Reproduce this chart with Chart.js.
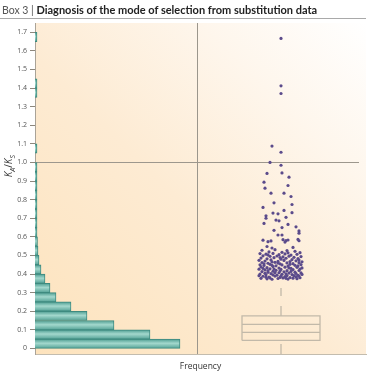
<!DOCTYPE html>
<html>
<head>
<meta charset="utf-8">
<script src="https://cdn.jsdelivr.net/npm/chart.js@4/dist/chart.umd.min.js"></script>
<style>
  body { margin: 0; background: #fff; }
  #wrap { position: relative; width: 371px; height: 372px; }
  #head {
    position: absolute; left: 0; top: 0; width: 366px; height: 19px;
    border-bottom: 1px solid #a9a9a9;
    font-family: Lato, "Open Sans", sans-serif; font-size: 11px; line-height: 19px;
    color: #222; padding-left: 2px; box-sizing: border-box; white-space: nowrap;
  }
  #head .box { color: #555; font-weight: normal; font-size: 10.5px; }
  #head b { font-weight: bold; }
  canvas { position: absolute; left: 0; top: 0; }
</style>
</head>
<body>
<div id="wrap">
  <canvas id="kaksChart" width="371" height="372"></canvas>
  <div id="head"><span class="box">Box 3 | </span><b>Diagnosis of the mode of selection from substitution data</b></div>
</div>
<script>
// histogram of Ka/Ks (bins of 0.05), frequency in arbitrary units
const binCenters = [0.025, 0.075, 0.125, 0.175, 0.225, 0.275, 0.325, 0.375, 0.425, 0.475,
                    0.525, 0.575, 0.625, 0.675, 0.725, 0.775, 0.825, 0.875, 0.925, 0.975,
                    1.025, 1.075, 1.125, 1.175, 1.225, 1.275, 1.325, 1.375, 1.425, 1.475,
                    1.525, 1.575, 1.625, 1.675];
const binCounts = [145, 115, 79, 52, 36, 21, 15, 10, 6, 4,
                   3, 2.5, 2, 2, 2, 2, 2, 2, 2, 2,
                   0, 2, 0, 0, 0, 0, 0, 2, 2, 0,
                   0, 0, 0, 2];

const yTickValues = [0, 0.1, 0.2, 0.3, 0.4, 0.5, 0.6, 0.7, 0.8, 0.9, 1.0, 1.1, 1.2, 1.3, 1.4, 1.5, 1.6, 1.7];
const yTickLabels = ['0', '0.1', '0.2', '0.3', '0.4', '0.5', '0.6', '0.7', '0.8', '0.9', '1.0', '1.1', '1.2', '1.3', '1.4', '1.5', '1.6', '1.7'];

// box plot: box lines, whiskers
const boxLines = [0.043, 0.086, 0.129, 0.175];
const whiskerTop = 0.325;
const whiskerBottom = -0.03;
const neutralValue = 1.0;

// outliers above the whisker: [jitter, Ka/Ks]
const outliers = [
  [0,1.667],[0,1.412],[0,1.371],[-9,1.088],[0,1.055],[-11,1.000],[0,0.985],[-14,0.941],[1,0.944],[8,0.921],
  [-17,0.894],[7,0.876],[-16,0.862],[-10,0.835],[3,0.835],[10,0.817],[-7,0.783],[11,0.774],[-18,0.758],[3,0.742],
  [-8,0.728],[-3,0.724],[11,0.730],[-15,0.713],[-15,0.700],[-5,0.690],[-2,0.686],[5,0.705],[-17,0.672],[7,0.667],
  [1,0.650],[15,0.654],[-7,0.635],[18,0.632],[18,0.620],[-3,0.610],[1,0.610],[-18,0.582],[-13,0.574],[-10,0.578],
  [2,0.585],[5,0.580],[7,0.583],[4,0.572],[17,0.586],[18,0.579],[12,0.543],[-14,0.548],[-9,0.540],
  [-19,0.528],[-6,0.531],[6,0.526],[14,0.522],[-12,0.519],[1,0.517],[19,0.515],
  [-21,0.510],[-15,0.507],[-8,0.511],[-2,0.504],[4,0.508],[10,0.502],[16,0.506],
  [-18,0.498],[-11,0.495],[-4,0.497],[2,0.492],[8,0.496],[13,0.490],[20,0.494],
  [-20,0.486],[-14,0.482],[-7,0.488],[0,0.480],[5,0.485],[11,0.478],[17,0.483],
  [-22,0.474],[-16,0.470],[-10,0.476],[-3,0.468],[3,0.473],[9,0.467],[15,0.471],[21,0.466],
  [-19,0.462],[-13,0.458],[-6,0.463],[-1,0.455],[6,0.460],[12,0.456],[18,0.461],
  [-21,0.450],[-17,0.446],[-11,0.452],[-5,0.444],[1,0.449],[7,0.443],[14,0.447],[20,0.451],
  [-20,0.438],[-14,0.434],[-8,0.440],[-2,0.432],[4,0.437],[10,0.430],[16,0.436],[21,0.433],
  [-22,0.426],[-16,0.422],[-11,0.428],[-5,0.420],[0,0.425],[6,0.418],[12,0.424],[18,0.419],
  [-19,0.413],[-13,0.409],[-8,0.415],[-2,0.407],[3,0.412],[8,0.405],[14,0.410],[20,0.406],
  [-21,0.400],[-15,0.396],[-10,0.402],[-4,0.394],[1,0.399],[6,0.392],[11,0.397],[17,0.393],[21,0.398],
  [-18,0.388],[-12,0.384],[-6,0.389],[-1,0.382],[4,0.386],[9,0.381],[15,0.385],[19,0.380],
  [-20,0.377],[-14,0.374],[-3,0.376],[7,0.373],[12,0.378],[-9,0.372],[2,0.379],
  [-17,0.455],[-9,0.447],[-3,0.459],[9,0.452],[17,0.444],[-18,0.430],[-7,0.427],[8,0.433],[19,0.427],
  [-13,0.418],[-1,0.416],[10,0.414],[-16,0.404],[-6,0.408],[5,0.401],[15,0.403],[-22,0.391],[-8,0.395],
  [13,0.391],[-15,0.383],[0,0.389],[18,0.389],[-11,0.379],[5,0.377],[16,0.375],
  [-13,0.503],[7,0.514],[-1,0.489],[18,0.475],[-9,0.465]
];

// layout of the two panels on the shared x axis
const xMax = 331;
const panelSplit = 162;
const boxCenter = 246;
const boxHalf = 39;

const boxColor = '#c2b9a9';
const L = boxCenter - boxHalf, R = boxCenter + boxHalf;

function lineSet(points, dash) {
  return {
    type: 'line', data: points, borderColor: boxColor, borderWidth: 1.3,
    pointRadius: 0, fill: false, borderDash: dash || [], tension: 0
  };
}

const bgPlugin = {
  id: 'bg',
  beforeDraw(chart) {
    const a = chart.chartArea, c = chart.ctx;
    const g = c.createLinearGradient(a.left, a.bottom, a.right, a.top);
    g.addColorStop(0, '#fde3bd');
    g.addColorStop(0.45, '#fdebd3');
    g.addColorStop(0.75, '#fef6ec');
    g.addColorStop(1, '#ffffff');
    c.save();
    c.fillStyle = g;
    c.fillRect(a.left, a.top, a.right - a.left, a.bottom - a.top);
    c.restore();
  },
  beforeDatasetsDraw(chart) {
    const a = chart.chartArea, c = chart.ctx;
    const y = Math.round(chart.scales.y.getPixelForValue(neutralValue)) + 0.5;
    c.save();
    c.strokeStyle = '#9d978d';
    c.lineWidth = 1;
    c.beginPath();
    c.moveTo(a.left, y);
    c.lineTo(a.right - 7, y);
    c.stroke();
    c.restore();
  },
  afterDraw(chart) {
    const c = chart.ctx;
    const y = chart.scales.y.getPixelForValue(0.98);
    c.save();
    c.translate(12, y);
    c.rotate(-Math.PI / 2);
    c.fillStyle = '#333';
    c.textBaseline = 'alphabetic';
    const parts = [['K', 10, 0], ['A', 7, 2.5], ['/', 10, 0], ['K', 10, 0], ['S', 7, 2.5]];
    const fontOf = p => (p[0] === '/' ? '' : 'italic ') + p[1] + 'px "Open Sans"';
    let w = 0;
    parts.forEach(p => { c.font = fontOf(p); w += c.measureText(p[0]).width; });
    let x = -w / 2;
    parts.forEach(p => {
      c.font = fontOf(p);
      c.fillText(p[0], x, p[2]);
      x += c.measureText(p[0]).width;
    });
    c.restore();
  }
};

new Chart(document.getElementById('kaksChart'), {
  type: 'scatter',
  data: {
    datasets: [
      {
        type: 'scatter',
        data: outliers.map(p => ({ x: boxCenter + p[0], y: p[1] })),
        backgroundColor: '#5b4b8b',
        pointRadius: 1.6,
        pointBorderWidth: 0
      },
      lineSet([{x: L, y: boxLines[0]}, {x: R, y: boxLines[0]}, {x: R, y: boxLines[3]}, {x: L, y: boxLines[3]}, {x: L, y: boxLines[0]}]),
      lineSet([{x: L, y: boxLines[1]}, {x: R, y: boxLines[1]}]),
      lineSet([{x: L, y: boxLines[2]}, {x: R, y: boxLines[2]}]),
      lineSet([{x: boxCenter, y: boxLines[3]}, {x: boxCenter, y: whiskerTop}], [10, 10]),
      lineSet([{x: boxCenter, y: whiskerBottom}, {x: boxCenter, y: boxLines[0]}], [10, 10]),
      {
        type: 'bar',
        indexAxis: 'y',
        data: binCenters.map((v, i) => ({ x: binCounts[i], y: v })),
        barPercentage: 1,
        categoryPercentage: 1,
        borderColor: '#3e8a7f',
        borderWidth: 1,
        backgroundColor(ctx) {
          const chart = ctx.chart;
          if (!chart.chartArea || !ctx.raw) return '#7cc4b6';
          const ys = chart.scales.y;
          const top = ys.getPixelForValue(ctx.raw.y + 0.025);
          const bot = ys.getPixelForValue(ctx.raw.y - 0.025);
          const g = chart.ctx.createLinearGradient(0, top, 0, bot);
          g.addColorStop(0, '#4d9d91');
          g.addColorStop(0.45, '#a3d8cd');
          g.addColorStop(1, '#54a296');
          return g;
        }
      }
    ]
  },
  options: {
    responsive: false,
    animation: false,
    devicePixelRatio: 1,
    layout: { padding: { top: 23, right: 5, left: 0, bottom: 0 } },
    plugins: { legend: { display: false }, tooltip: { enabled: false } },
    scales: {
      x: {
        type: 'linear',
        min: 0,
        max: xMax,
        offset: false,
        afterBuildTicks(scale) { scale.ticks = [{ value: panelSplit }]; },
        afterFit(scale) { scale.height = 18; },
        ticks: { display: false },
        grid: { color: '#9b968c', lineWidth: 1, drawTicks: false, offset: false },
        border: { display: true, color: '#c3bcae' },
        title: { display: true, text: 'Frequency', color: '#333', font: { family: 'Open Sans', size: 8.5 }, padding: { top: 4, bottom: 0 } }
      },
      y: {
        type: 'linear',
        min: whiskerBottom,
        max: 1.75,
        offset: false,
        afterBuildTicks(scale) { scale.ticks = yTickValues.map(v => ({ value: v })); },
        afterFit(scale) { scale.width = 35; },
        ticks: {
          padding: 3,
          color: '#555',
          font: { family: 'Open Sans', size: 7 },
          callback(value, i) { return yTickLabels[i]; }
        },
        grid: { drawOnChartArea: false, drawTicks: true, tickLength: 5, color: '#8d877d', offset: false },
        border: { display: true, color: '#aaa397' }
      }
    }
  },
  plugins: [bgPlugin]
});
</script>
</body>
</html>
